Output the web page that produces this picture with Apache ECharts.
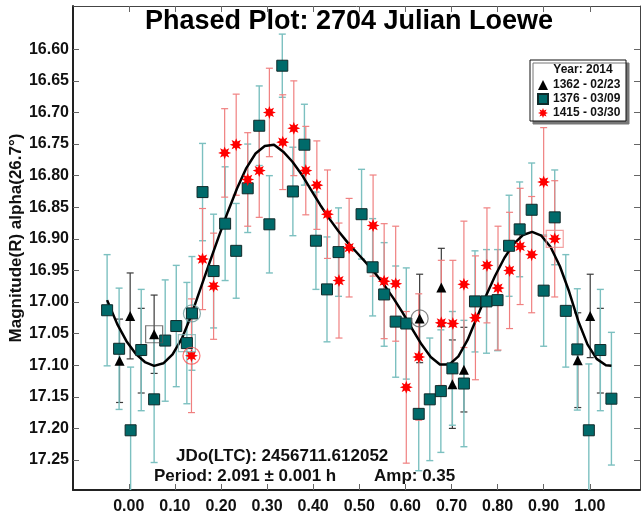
<!DOCTYPE html>
<html>
<head>
<meta charset="utf-8">
<script src="https://cdn.jsdelivr.net/npm/echarts@6/dist/echarts.min.js"></script>
<style>
  html, body { margin: 0; padding: 0; background: #fff; }
  #main { width: 641px; height: 517px; }
</style>
</head>
<body>
<div id="main"></div>
<script>
// tick labels
var xTicks = [0.0, 0.1, 0.2, 0.3, 0.4, 0.5, 0.6, 0.7, 0.8, 0.9, 1.0];
var yTicks = [16.60, 16.65, 16.70, 16.75, 16.80, 16.85, 16.90, 16.95, 17.00, 17.05, 17.10, 17.15, 17.20, 17.25];

// [phase, magnitude, error]
var tri1362 = [
  [-0.020, 17.093, 0.066], [0.003, 17.022, 0.068], [0.027, 17.077, 0.067], [0.055, 17.051, 0.062],
  [0.631, 17.026, 0.070], [0.678, 16.977, 0.062], [0.702, 17.130, 0.070], [0.727, 17.107, 0.067],
  [0.974, 17.092, 0.075], [1.001, 17.022, 0.066], [1.023, 17.077, 0.067]
];
var sq1376 = [
  [-0.047, 17.013, 0.088], [-0.021, 17.074, 0.096], [0.004, 17.203, 0.100], [0.027, 17.076, 0.096],
  [0.055, 17.154, 0.100], [0.079, 17.061, 0.096], [0.103, 17.038, 0.096], [0.126, 17.065, 0.096],
  [0.137, 17.018, 0.090], [0.160, 16.826, 0.077], [0.184, 16.951, 0.090], [0.209, 16.876, 0.090],
  [0.233, 16.919, 0.075], [0.258, 16.820, 0.070], [0.283, 16.721, 0.063], [0.305, 16.877, 0.077],
  [0.333, 16.626, 0.050], [0.356, 16.825, 0.070], [0.381, 16.751, 0.064], [0.406, 16.903, 0.077],
  [0.430, 16.980, 0.083], [0.455, 16.921, 0.070], [0.505, 16.861, 0.071], [0.529, 16.945, 0.077],
  [0.554, 16.988, 0.082], [0.579, 17.031, 0.088], [0.602, 17.034, 0.088], [0.629, 17.177, 0.090],
  [0.653, 17.154, 0.097], [0.677, 17.141, 0.097], [0.702, 17.105, 0.090], [0.727, 17.129, 0.100],
  [0.751, 16.999, 0.080], [0.776, 16.999, 0.082], [0.800, 16.997, 0.080], [0.825, 16.911, 0.080],
  [0.848, 16.885, 0.075], [0.874, 16.854, 0.074], [0.900, 16.982, 0.088], [0.924, 16.866, 0.075],
  [0.948, 17.014, 0.089], [0.973, 17.075, 0.096], [0.998, 17.203, 0.105], [1.023, 17.076, 0.096],
  [1.047, 17.153, 0.105]
];
var ast1415 = [
  [0.136, 17.085, 0.090], [0.160, 16.932, 0.080], [0.184, 16.975, 0.084], [0.208, 16.764, 0.070],
  [0.233, 16.751, 0.080], [0.258, 16.806, 0.074], [0.283, 16.792, 0.074], [0.305, 16.700, 0.070],
  [0.334, 16.747, 0.075], [0.358, 16.725, 0.075], [0.384, 16.792, 0.070], [0.408, 16.815, 0.070],
  [0.431, 16.861, 0.070], [0.456, 16.966, 0.091], [0.478, 16.914, 0.078], [0.530, 16.879, 0.080],
  [0.554, 16.967, 0.091], [0.579, 16.971, 0.091], [0.602, 17.135, 0.120], [0.629, 17.087, 0.100],
  [0.678, 17.033, 0.099], [0.703, 17.034, 0.100], [0.727, 16.972, 0.100], [0.752, 17.025, 0.098],
  [0.777, 16.942, 0.091], [0.801, 16.978, 0.098], [0.826, 16.950, 0.092], [0.849, 16.912, 0.092],
  [0.874, 16.925, 0.092], [0.900, 16.810, 0.086], [0.924, 16.900, 0.092]
];

// fitted light curve
var fitPhase = [-0.047, -0.025, -0.005, 0.015, 0.035, 0.055, 0.075, 0.095, 0.115, 0.135, 0.155, 0.175,
  0.195, 0.215, 0.235, 0.255, 0.275, 0.295, 0.315, 0.335, 0.355, 0.375, 0.395, 0.415, 0.435, 0.455,
  0.475, 0.495, 0.515, 0.535, 0.555, 0.575, 0.595, 0.615, 0.635, 0.655, 0.675, 0.695, 0.715, 0.735,
  0.755, 0.775, 0.795, 0.815, 0.835, 0.855, 0.875, 0.895, 0.915, 0.935, 0.955, 0.975, 0.995, 1.015,
  1.035, 1.047];
var fitMag = [16.997, 17.035, 17.062, 17.082, 17.095, 17.101, 17.097, 17.083, 17.058, 17.022, 16.980, 16.938,
  16.897, 16.857, 16.820, 16.788, 16.765, 16.753, 16.751, 16.762, 16.778, 16.798, 16.822, 16.846, 16.868, 16.888,
  16.906, 16.922, 16.938, 16.955, 16.974, 16.995, 17.018, 17.043, 17.067, 17.087, 17.099, 17.099, 17.086, 17.060,
  17.025, 16.990, 16.958, 16.930, 16.908, 16.894, 16.889, 16.895, 16.913, 16.943, 16.983, 17.030, 17.067, 17.090,
  17.100, 17.101];

// highlighted points
var boxMarks = [[0.055, 17.051], [0.126, 17.065], [0.924, 16.900]];
var ringMarks = [[0.137, 17.018], [0.136, 17.085], [0.631, 17.026]];

var FONT = '"Liberation Sans", Arial, sans-serif';

// asterisk marker
function starPath(n, r1, r2) {
  var s = 'path://';
  for (var i = 0; i < n * 2; i++) {
    var a = Math.PI * i / n - Math.PI / 2;
    var r = i % 2 ? r2 : r1;
    s += (i ? 'L' : 'M') + (10 + r * Math.cos(a)).toFixed(2) + ',' + (10 + r * Math.sin(a)).toFixed(2);
  }
  return s + 'Z';
}
var ASTER = starPath(8, 10, 5.2);

function errBars(color, width) {
  return function (params, api) {
    var x = api.value(0), y = api.value(1), e = api.value(2);
    var p1 = api.coord([x, y - e]);
    var p2 = api.coord([x, y + e]);
    var c = 3.5;
    var st = { stroke: color, lineWidth: width };
    return {
      type: 'group',
      children: [
        { type: 'line', shape: { x1: p1[0], y1: p1[1], x2: p2[0], y2: p2[1] }, style: st },
        { type: 'line', shape: { x1: p1[0] - c, y1: p1[1], x2: p1[0] + c, y2: p1[1] }, style: st },
        { type: 'line', shape: { x1: p2[0] - c, y1: p2[1], x2: p2[0] + c, y2: p2[1] }, style: st }
      ]
    };
  };
}

var fitData = fitPhase.map(function (p, i) { return [p, fitMag[i]]; });
var boxColors = ['#555', '#7fb3b3', '#f08a8a'];
var ringColors = ['#6a9a9a', '#ff5050', '#666'];

var axisLineStyle = { color: '#222', width: 2 };
var tickStyle = { color: '#666', width: 1 };

var option = {
  animation: false,
  grid: { left: 73, right: 1, top: 6, bottom: 27 },
  legend: {
    data: ['1362 - 02/23', '1376 - 03/09', '1415 - 03/30'],
    orient: 'vertical',
    left: 537, top: 79,
    padding: 0,
    itemWidth: 10, itemHeight: 10, itemGap: 2,
    selectedMode: false,
    textStyle: { fontFamily: FONT, fontWeight: 'bold', fontSize: 12, color: '#111' }
  },
  xAxis: [{
    type: 'value', min: -0.121, max: 1.109, position: 'bottom',
    axisLine: { show: true, onZero: false, lineStyle: axisLineStyle },
    axisTick: { show: true, inside: true, length: 6, lineStyle: tickStyle, customValues: xTicks },
    axisLabel: {
      customValues: xTicks, margin: 9,
      formatter: function (v) { return v.toFixed(2); },
      fontFamily: FONT, fontWeight: 'bold', fontSize: 16, color: '#111'
    },
    splitLine: { show: false }
  }, {
    type: 'value', min: -0.121, max: 1.109, position: 'top',
    axisLine: { show: true, onZero: false, lineStyle: { color: '#444', width: 1 } },
    axisTick: { show: true, inside: true, length: 6, lineStyle: tickStyle, customValues: xTicks },
    axisLabel: { show: false },
    splitLine: { show: false }
  }],
  yAxis: [{
    type: 'value', inverse: true, min: 16.5315, max: 17.2975, position: 'left',
    axisLine: { show: true, onZero: false, lineStyle: axisLineStyle },
    axisTick: { show: true, inside: true, length: 6, lineStyle: tickStyle, customValues: yTicks },
    axisLabel: {
      customValues: yTicks, margin: 4,
      formatter: function (v) { return v.toFixed(2); },
      fontFamily: FONT, fontWeight: 'bold', fontSize: 16, color: '#111'
    },
    splitLine: { show: false }
  }, {
    type: 'value', inverse: true, min: 16.5315, max: 17.2975, position: 'right',
    axisLine: { show: true, onZero: false, lineStyle: { color: '#444', width: 1 } },
    axisTick: { show: true, inside: true, length: 6, lineStyle: tickStyle, customValues: yTicks },
    axisLabel: { show: false },
    splitLine: { show: false }
  }],
  graphic: [
    { type: 'text', style: {
        text: 'Phased Plot: 2704 Julian Loewe', x: 349, y: 22, align: 'center', verticalAlign: 'middle',
        font: 'bold 27px ' + FONT, fill: '#000' } },
    { type: 'text', style: {
        text: 'Magnitude(R) alpha(26.7°)', x: 0, y: 0, align: 'center', verticalAlign: 'middle',
        font: 'bold 17px ' + FONT, fill: '#111' }, x: 16, y: 238, rotation: Math.PI / 2 },
    { type: 'text', style: {
        text: 'JDo(LTC): 2456711.612052', x: 176, y: 456, align: 'left', verticalAlign: 'middle',
        font: 'bold 17px ' + FONT, fill: '#111' } },
    { type: 'text', style: {
        text: 'Period: 2.091 ± 0.001 h', x: 154, y: 476, align: 'left', verticalAlign: 'middle',
        font: 'bold 17px ' + FONT, fill: '#111' } },
    { type: 'text', style: {
        text: 'Amp: 0.35', x: 374, y: 476, align: 'left', verticalAlign: 'middle',
        font: 'bold 17px ' + FONT, fill: '#111' } },
    { type: 'rect', shape: { x: 530, y: 60, width: 96, height: 61 }, style: {
        fill: '#fff', stroke: '#111', lineWidth: 1,
        shadowColor: '#777', shadowOffsetX: 3, shadowOffsetY: 3, shadowBlur: 0 }, z: 1 },
    { type: 'text', style: {
        text: 'Year: 2014', x: 583, y: 70, align: 'center', verticalAlign: 'middle',
        font: 'bold 12px ' + FONT, fill: '#111' }, z: 2 }
  ],
  series: [
    { type: 'custom', name: 'err1362', renderItem: errBars('#3a3a3a', 1.2), data: tri1362,
      encode: { x: 0, y: 1 }, clip: true, z: 2 },
    { type: 'custom', name: 'err1376', renderItem: errBars('#7cc0c0', 1.4), data: sq1376,
      encode: { x: 0, y: 1 }, clip: true, z: 2 },
    { type: 'custom', name: 'err1415', renderItem: errBars('#f08080', 1.2), data: ast1415,
      encode: { x: 0, y: 1 }, clip: true, z: 2 },
    { type: 'line', name: 'fit', data: fitData, smooth: false, showSymbol: false,
      lineStyle: { color: '#000', width: 2.5, join: 'round' }, z: 3 },
    { type: 'scatter', name: '1362 - 02/23', data: tri1362.map(function (d) { return [d[0], d[1]]; }),
      symbol: 'triangle', symbolSize: 10, itemStyle: { color: '#000', opacity: 1 }, z: 4 },
    { type: 'scatter', name: '1376 - 03/09', data: sq1376.map(function (d) { return [d[0], d[1]]; }),
      symbol: 'rect', symbolSize: 11,
      itemStyle: { color: '#006a6a', borderColor: '#102a2a', borderWidth: 1, opacity: 1 }, z: 5 },
    { type: 'scatter', name: '1415 - 03/30', data: ast1415.map(function (d) { return [d[0], d[1]]; }),
      symbol: ASTER, symbolSize: 13, itemStyle: { color: '#ff0000', opacity: 1 }, z: 6 },
    { type: 'scatter', name: 'boxes', data: boxMarks.map(function (d, i) {
        return { value: d, itemStyle: { color: 'transparent', borderColor: boxColors[i], borderWidth: 1.2 } };
      }), symbol: 'rect', symbolSize: 17, silent: true, z: 7 },
    { type: 'scatter', name: 'rings', data: ringMarks.map(function (d, i) {
        return { value: d, itemStyle: { color: 'transparent', borderColor: ringColors[i], borderWidth: 1.2 } };
      }), symbol: 'circle', symbolSize: 17, silent: true, z: 7 }
  ]
};

var chart = echarts.init(document.getElementById('main'));
chart.setOption(option);
</script>
</body>
</html>
